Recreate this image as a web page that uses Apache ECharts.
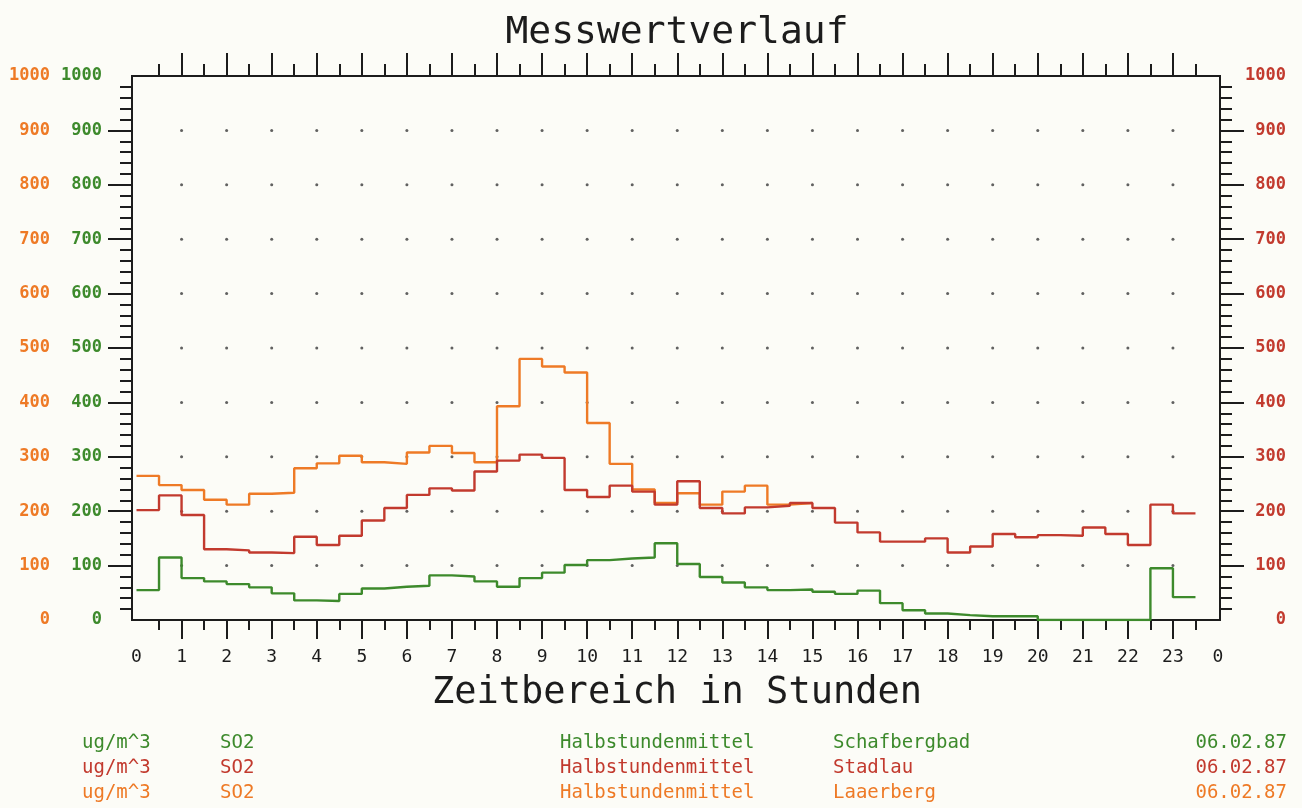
<!DOCTYPE html>
<html>
<head>
<meta charset="utf-8">
<script src="https://cdn.jsdelivr.net/npm/echarts@6/dist/echarts.min.js"></script>
<style>
  html, body { margin: 0; padding: 0; background: #fcfcf7; }
  #chart { width: 1302px; height: 808px; }
</style>
</head>
<body>
<div id="chart"></div>
<script>
// Halbstundenmittel SO2, 06.02.87 (Werte ab 0:00, je 30 min)
const schafbergbad = [55, 115, 77, 71, 66, 60, 49, 36, 35, 48, 58, 61, 63, 82, 80, 71,
    61, 77, 87, 101, 110, 113, 115, 141, 103, 79, 69, 60, 55, 56, 52, 48,
    54, 31, 18, 12, 9, 7, 7, 7, 0, 0, 0, 0, 0, 95, 42];
const stadlau = [202, 229, 193, 130, 128, 124, 123, 153, 138, 155, 183, 206, 230, 242, 238, 273,
    293, 304, 298, 239, 226, 247, 236, 212, 255, 206, 196, 207, 210, 215, 206, 179,
    161, 144, 144, 150, 124, 135, 158, 152, 156, 155, 170, 158, 138, 212, 196];
const laaerberg = [265, 248, 239, 221, 212, 232, 234, 279, 288, 302, 290, 287, 308, 320, 307, 290,
    393, 480, 466, 455, 362, 287, 240, 215, 233, 212, 236, 247, 212, 215];

const hourTicks = [1, 2, 3, 4, 5, 6, 7, 8, 9, 10, 11, 12, 13, 14, 15, 16, 17, 18, 19, 20, 21, 22, 23];
const hourLabels = [0, 1, 2, 3, 4, 5, 6, 7, 8, 9, 10, 11, 12, 13, 14, 15, 16, 17, 18, 19, 20, 21, 22, 23, 24];
const levelTicks = [100, 200, 300, 400, 500, 600, 700, 800, 900];

const GREEN = '#3d8a2c';
const RED = '#c23a2e';
const ORANGE = '#ee7a26';
const INK = '#1c1c1c';
const MONO = '"DejaVu Sans Mono", monospace';

// Stufenlinie: jeder Wert gilt 30 Minuten
function steps(values) {
    const pts = values.map((v, i) => [i * 0.5, v]);
    pts.push([values.length * 0.5, values[values.length - 1]]);
    return pts;
}

// Punktraster
const dots = [];
hourTicks.forEach(h => levelTicks.forEach(v => dots.push([h, v])));

const tickStyle = { color: INK, width: 2 };
const plain = v => String(v);

const chart = echarts.init(document.getElementById('chart'));

const option = {
    backgroundColor: '#fcfcf7',
    animation: false,
    grid: [
        { left: 132, right: 82, top: 76, bottom: 188, show: true, borderColor: INK, borderWidth: 2 },
        { left: 136.5, right: 84, top: 76, bottom: 188 }
    ],
    xAxis: [
        {
            gridIndex: 1, type: 'value', min: 0, max: 24, interval: 1, position: 'bottom',
            axisLine: { show: false },
            axisTick: { show: true, length: 19, lineStyle: tickStyle, customValues: hourTicks },
            minorTick: { show: true, splitNumber: 2, length: 10, lineStyle: tickStyle },
            axisLabel: {
                customValues: hourLabels, formatter: v => String(v % 24),
                fontFamily: MONO, fontSize: 18, color: INK, margin: 28
            },
            splitLine: { show: false }
        },
        {
            gridIndex: 1, type: 'value', min: 0, max: 24, interval: 1, position: 'top',
            axisLine: { show: false },
            axisTick: { show: true, length: 23, lineStyle: tickStyle, customValues: hourTicks },
            minorTick: { show: true, splitNumber: 2, length: 12, lineStyle: tickStyle },
            axisLabel: { show: false },
            splitLine: { show: false }
        },
        { gridIndex: 0, type: 'value', min: 0, max: 1, show: false }
    ],
    yAxis: [
        {
            gridIndex: 0, type: 'value', min: 0, max: 1000, interval: 100, position: 'left',
            axisLine: { show: false },
            axisTick: { show: true, length: 24, lineStyle: tickStyle, customValues: levelTicks },
            minorTick: { show: true, splitNumber: 5, length: 12, lineStyle: tickStyle },
            axisLabel: { fontFamily: MONO, fontSize: 17, fontWeight: 'bold', color: GREEN, margin: 30, formatter: plain },
            splitLine: { show: false }
        },
        {
            gridIndex: 0, type: 'value', min: 0, max: 1000, interval: 100, position: 'left',
            axisLine: { show: false }, axisTick: { show: false },
            axisLabel: { fontFamily: MONO, fontSize: 17, fontWeight: 'bold', color: ORANGE, margin: 82, formatter: plain },
            splitLine: { show: false }
        },
        {
            gridIndex: 0, type: 'value', min: 0, max: 1000, interval: 100, position: 'right',
            axisLine: { show: false },
            axisTick: { show: true, length: 24, lineStyle: tickStyle, customValues: levelTicks },
            minorTick: { show: true, splitNumber: 5, length: 12, lineStyle: tickStyle },
            axisLabel: { fontFamily: MONO, fontSize: 17, fontWeight: 'bold', color: RED, margin: 66, align: 'right', formatter: plain },
            splitLine: { show: false }
        },
        { gridIndex: 1, type: 'value', min: 0, max: 1000, show: false }
    ],
    series: [
        {
            name: 'Raster', type: 'scatter', xAxisIndex: 0, yAxisIndex: 3,
            data: dots, symbolSize: 3, silent: true,
            itemStyle: { color: '#3a3a3a' }
        },
        {
            name: 'Laaerberg', type: 'line', xAxisIndex: 0, yAxisIndex: 3, step: 'end',
            data: steps(laaerberg), showSymbol: false,
            lineStyle: { color: ORANGE, width: 2.4 }
        },
        {
            name: 'Stadlau', type: 'line', xAxisIndex: 0, yAxisIndex: 3, step: 'end',
            data: steps(stadlau), showSymbol: false,
            lineStyle: { color: RED, width: 2.4 }
        },
        {
            name: 'Schafbergbad', type: 'line', xAxisIndex: 0, yAxisIndex: 3, step: 'end',
            data: steps(schafbergbad), showSymbol: false,
            lineStyle: { color: GREEN, width: 2.4 }
        }
    ],
    graphic: [
        { type: 'text', x: 677, y: 33, style: { text: 'Messwertverlauf', font: '38px ' + MONO, fill: INK, align: 'center', verticalAlign: 'middle' } },
        { type: 'text', x: 677, y: 693, style: { text: 'Zeitbereich in Stunden', font: '37px ' + MONO, fill: INK, align: 'center', verticalAlign: 'middle' } }
    ]
};

// Legendenzeilen unten
const rows = [
    { color: GREEN, station: 'Schafbergbad', y: 743 },
    { color: RED, station: 'Stadlau', y: 768 },
    { color: ORANGE, station: 'Laaerberg', y: 793 }
];
rows.forEach(r => {
    const txt = (text, x, align) => ({
        type: 'text', x: x, y: r.y,
        style: { text: text, font: '19px ' + MONO, fill: r.color, align: align, verticalAlign: 'middle' }
    });
    option.graphic.push(txt('ug/m^3', 82, 'left'));
    option.graphic.push(txt('SO2', 220, 'left'));
    option.graphic.push(txt('Halbstundenmittel', 560, 'left'));
    option.graphic.push(txt(r.station, 833, 'left'));
    option.graphic.push(txt('06.02.87', 1287, 'right'));
});

chart.setOption(option);
</script>
</body>
</html>
